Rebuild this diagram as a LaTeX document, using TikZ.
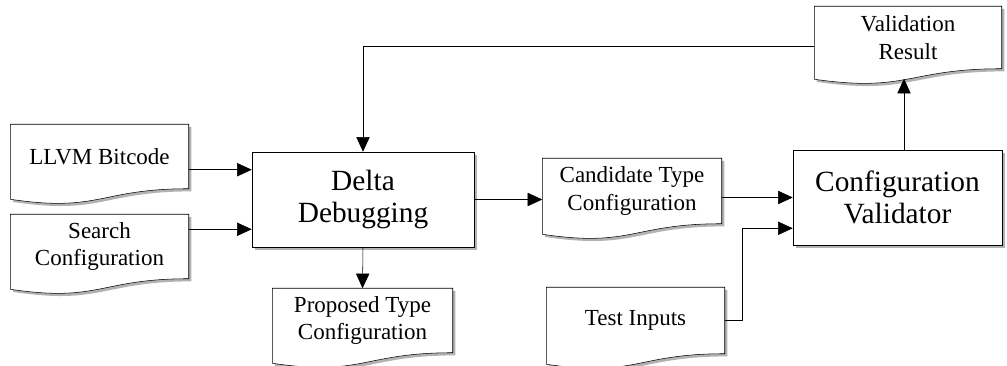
\documentclass[tikz,border=0pt]{standalone}
\usepackage{fontspec}
\setmainfont{Liberation Serif}
\usetikzlibrary{arrows.meta,calc,backgrounds}

\tikzset{every picture/.style={line width=1.1pt}}
\tikzset{
  softshadow/.style={preaction={fill=black!30,transform canvas={xshift=2pt,yshift=-2pt}}},
  procbox/.style={draw,fill=white,softshadow,align=center,inner sep=0pt,font=\fontsize{22}{24}\selectfont},
  docnode/.style={inner sep=0pt,align=center,font=\fontsize{17.25}{20.8}\selectfont},
  docline/.style={draw,fill=white,softshadow},
  arr/.style={-{Triangle[length=11pt,width=10pt]}},
}

% document outline with a wavy bottom, drawn behind the named node
\newcommand{\docshape}[1]{%
  \begin{pgfonlayer}{background}
    \draw[docline] (#1.north west) -- (#1.north east) -- (#1.south east)
      .. controls (#1.south) and ($(#1.south)+(0,24)$) .. ($(#1.south west)+(0,10.5)$) -- cycle;
  \end{pgfonlayer}
  \coordinate (#1-b) at ($(#1.south)+(0,10)$);
}

\begin{document}
\begin{tikzpicture}[x=0.75pt,y=0.75pt,yscale=-1,xscale=1]

		\useasboundingbox (0,0) rectangle (1007,366);

		\node[docnode,minimum width=132.75pt,minimum height=47.25pt] (llvm) at (99.5,156.5) {LLVM Bitcode};
		\node[docnode,minimum width=132.75pt,minimum height=47.25pt] (search) at (99.5,246.5) {Search\\Configuration};
		\node[docnode,minimum width=134.25pt,minimum height=47.25pt] (prop) at (362.5,320.5) {Proposed Type\\Configuration};
		\node[docnode,minimum width=133.5pt,minimum height=48pt] (cand) at (632,191) {Candidate Type\\Configuration};
		\node[docnode,minimum width=132.75pt,minimum height=48.75pt] (test) at (635.5,320.5) {Test Inputs};
		\node[docnode,minimum width=139.5pt,minimum height=45.75pt] (vres) at (908,37.5) {Validation\\Result};
		\docshape{llvm}
		\docshape{search}
		\docshape{prop}
		\docshape{cand}
		\docshape{test}
		\docshape{vres}

		\node[procbox,minimum width=166.5pt,minimum height=71.25pt] (delta) at (363,199.5) {Delta\\Debugging};
		\node[procbox,minimum width=156.75pt,minimum height=71.25pt] (valid) at (897.5,197.5) {Configuration\\Validator};

		\coordinate (din1) at ($(delta.north west)+(0,18)$);
		\coordinate (din2) at ($(delta.south west)+(0,-18)$);
		\coordinate (vin2) at ($(valid.south west)+(0,-17)$);
		\coordinate (vout) at ($(valid.north)+(6.5,0)$);

		\draw[arr] (llvm.east |- din1) -- (din1);
		\draw[arr] (search.east |- din2) -- (din2);
		\draw[arr] (delta.east) -- (delta.east -| cand.west);
		\draw[arr] (cand.east |- valid.west) -- (valid.west);
		\draw[arr] (test.east) -- ++(18,0) |- (vin2);
		\draw[arr] (delta.south) -- (prop.north);
		\draw[arr] (vout) -- (vout |- vres-b);
		\draw[arr] ($(vres.west)+(0,8.5)$) -| (delta.north);

\end{tikzpicture}
\end{document}
